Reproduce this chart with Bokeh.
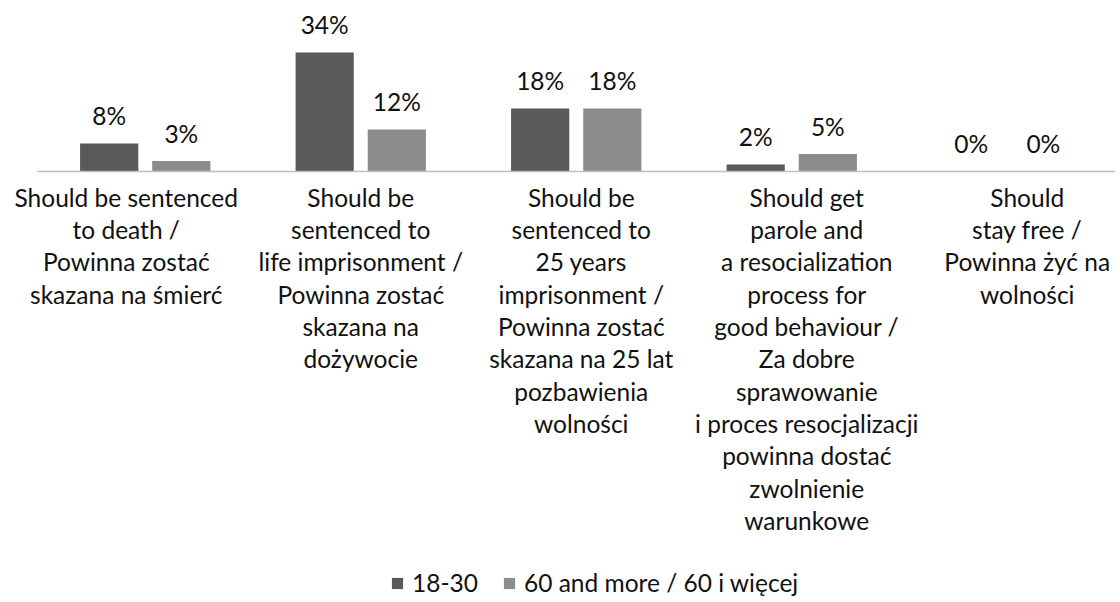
from bokeh.plotting import figure
from bokeh.models import ColumnDataSource, Range1d, Legend, LegendItem
from bokeh.core.properties import value
from bokeh.embed import file_html
from bokeh.resources import INLINE

# ---- data ----
categories = ["death", "life", "25y", "parole", "free"]
category_labels = [
    "Should be sentenced\nto death /\nPowinna zostać\nskazana na śmierć",
    "Should be\nsentenced to\nlife imprisonment /\nPowinna zostać\nskazana na\ndożywocie",
    "Should be\nsentenced to\n25 years\nimprisonment /\nPowinna zostać\nskazana na 25 lat\npozbawienia\nwolności",
    "Should get\nparole and\na resocialization\nprocess for\ngood behaviour /\nZa dobre\nsprawowanie\ni proces resocjalizacji\npowinna dostać\nzwolnienie\nwarunkowe",
    "Should\nstay free /\nPowinna żyć na\nwolności",
]
series_names = ["18-30", "60 and more / 60 i więcej"]
values_18_30 = [8, 34, 18, 2, 0]
values_60_plus = [3, 12, 18, 5, 0]

# ---- layout / style ----
W, H = 1116, 600
AXIS_LEFT_PX = 37      # where the category axis starts
CAT_PX = 215.5         # width of one category slot
BASE_PX = 171          # baseline position from top of figure
PX_PER_UNIT = 3.5
label_dx = [-19, 0, 5, 15, 20]
FONT_NAME = "Lato"
FONT = value(FONT_NAME)
FS = "24.5px"
DARK = "#595959"
LIGHT = "#8c8c8c"
TXT = "#111111"

idx = [i + 0.5 for i in range(len(categories))]
off = 0.1674
src = ColumnDataSource(dict(
    x=idx,
    xa=[x - off for x in idx],
    xb=[x + off for x in idx],
    label=category_labels,
    dx=label_dx,
    a=values_18_30,
    b=values_60_plus,
    a_lbl=[f"{v}%" for v in values_18_30],
    b_lbl=[f"{v}%" for v in values_60_plus],
))

p = figure(
    width=W, height=H,
    x_range=Range1d(-AXIS_LEFT_PX / CAT_PX, (W - AXIS_LEFT_PX) / CAT_PX),
    y_range=Range1d(-(H - BASE_PX) / PX_PER_UNIT, BASE_PX / PX_PER_UNIT),
    output_backend="svg", toolbar_location=None,
    x_axis_location=None, y_axis_location=None,
    min_border_left=0, min_border_right=0, min_border_top=0, min_border_bottom=0,
)
p.grid.visible = False
p.outline_line_color = None

r1 = p.vbar(x="xa", top="a", width=0.27, source=src, fill_color=DARK, line_color=None)
r2 = p.vbar(x="xb", top="b", width=0.27, source=src, fill_color=LIGHT, line_color=None)

# category axis baseline
p.segment(x0=0, x1=len(categories), y0=0, y1=0, line_color="#bfbfbf", line_width=1.5)

for xk, key, lbl in (("xa", "a", "a_lbl"), ("xb", "b", "b_lbl")):
    p.text(x=xk, y=key, text=lbl, source=src,
           text_align="center", text_baseline="alphabetic", y_offset=-28,
           text_font=FONT, text_font_size=FS, text_color=TXT)

p.text(x="x", y=0, text="label", source=src, x_offset="dx", y_offset=11,
       text_align="center", text_baseline="top", text_line_height=1.116,
       text_font=FONT, text_font_size=FS, text_color=TXT)

legend = Legend(
    items=[LegendItem(label=series_names[0], renderers=[r1]),
           LegendItem(label=series_names[1], renderers=[r2])],
    orientation="horizontal", location=(390, 3),
    glyph_width=14, glyph_height=14, label_standoff=8, spacing=24,
    padding=0, margin=0, border_line_color=None, background_fill_alpha=0,
    label_text_font=FONT_NAME, label_text_font_size=FS, label_text_color=TXT,
)
p.add_layout(legend)

open("out.html", "w").write(file_html(p, INLINE))
